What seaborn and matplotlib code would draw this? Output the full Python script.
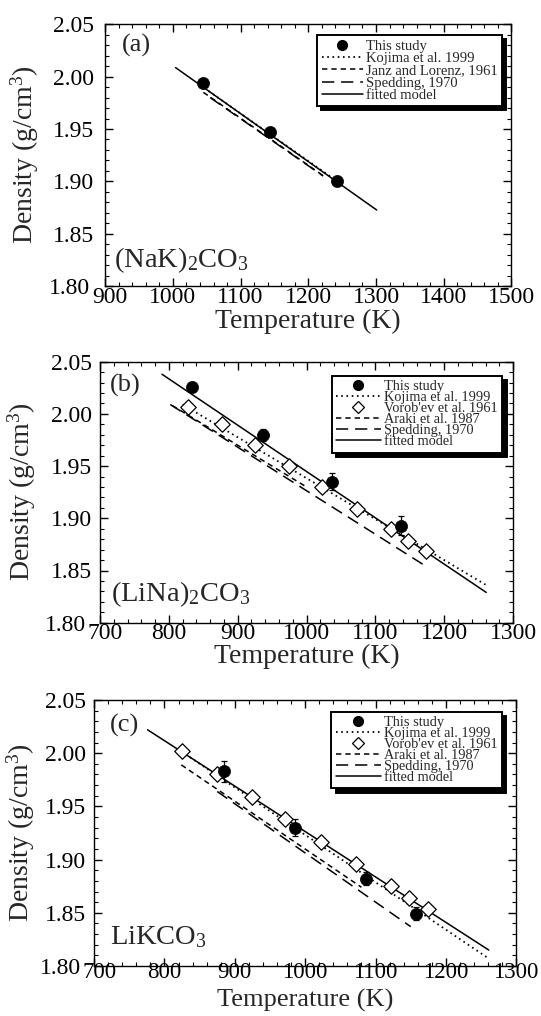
import matplotlib
matplotlib.use("Agg")
import matplotlib.pyplot as plt
import seaborn as sns
import pandas as pd
from matplotlib.ticker import MultipleLocator, FormatStrFormatter
from matplotlib.lines import Line2D
from matplotlib.transforms import ScaledTranslation

# ---------------- data ----------------
# Panel (a) (NaK)2CO3
a_study_T = [1045, 1143, 1243]
a_study_rho = [1.994, 1.947, 1.900]
a_kojima_T = [1040, 1245]
a_kojima_rho = [1.992, 1.899]
a_janz_T = [1045, 1225]
a_janz_rho = [1.985, 1.904]
a_spedding_T = [1055, 1222]
a_spedding_rho = [1.980, 1.905]
a_fit_T = [1004, 1301]
a_fit_rho = [2.0086, 1.8726]

# Panel (b) (LiNa)2CO3
b_study_T = [833, 937, 1037, 1137]
b_study_rho = [2.026, 1.980, 1.935, 1.893]
b_study_err = [0.005, 0.006, 0.008, 0.009]
b_vorobev_T = [828, 877, 925, 974, 1023, 1073, 1123, 1148, 1174]
b_vorobev_rho = [2.007, 1.990, 1.970, 1.950, 1.930, 1.909, 1.890, 1.878, 1.869]
b_kojima_T = [820, 1261]
b_kojima_rho = [2.009, 1.836]
b_araki_T = [805, 1000]
b_araki_rho = [2.008, 1.930]
b_spedding_T = [802, 1176]
b_spedding_rho = [2.009, 1.853]
b_fit_T = [790, 1261]
b_fit_rho = [2.038, 1.829]

# Panel (c) LiKCO3
c_study_T = [884, 985, 1086, 1158]
c_study_rho = [1.983, 1.930, 1.882, 1.849]
c_study_err = [0.010, 0.008, 0.006, 0.006]
c_vorobev_T = [825, 875, 924, 972, 1022, 1072, 1122, 1147, 1174]
c_vorobev_rho = [2.002, 1.980, 1.959, 1.938, 1.917, 1.896, 1.875, 1.864, 1.854]
c_kojima_T = [830, 1261]
c_kojima_rho = [1.999, 1.807]
c_araki_T = [824, 1080]
c_araki_rho = [1.989, 1.874]
c_spedding_T = [875, 1150]
c_spedding_rho = [1.964, 1.837]
c_fit_T = [776, 1261]
c_fit_rho = [2.022, 1.815]

panel_tags = ["(a)", "(b)", "(c)"]
panel_names = [r"(NaK)$_2$CO$_3$", r"(LiNa)$_2$CO$_3$", r"LiKCO$_3$"]
xlims = [(900, 1500), (700, 1300), (700, 1300)]

# ---------------- style ----------------
sns.set_theme(style="ticks")
plt.rcParams["font.family"] = ["Liberation Serif", "DejaVu Serif"]
plt.rcParams["mathtext.fontset"] = "custom"
plt.rcParams["mathtext.rm"] = "Liberation Serif"
plt.rcParams["mathtext.it"] = "Liberation Serif:italic"
plt.rcParams["axes.linewidth"] = 1.0
plt.rcParams["axes.edgecolor"] = "black"

DOT = (0.9, 2.0)
SHORT = (3.5, 2.6)
LONG = (8.0, 4.5)
LW = 1.1

W, H = 541, 1016
fig = plt.figure(figsize=(W / 100, H / 100), dpi=100)

boxes = [(105.2, 511.4, 24.3, 286.0), (100.0, 513.1, 361.7, 622.7), (94.1, 516.2, 700.0, 966.0)]
axes = []
for (l, r, t, b) in boxes:
    axes.append(fig.add_axes([l / W, 1 - b / H, (r - l) / W, (b - t) / H]))


def line(ax, T, rho, dashes=None):
    df = pd.DataFrame({"T": T, "rho": rho})
    sns.lineplot(data=df, x="T", y="rho", ax=ax, color="black",
                 lw=(1.3 if dashes == DOT else LW),
                 estimator=None, sort=False, legend=False)
    ln = ax.lines[-1]
    if dashes is not None:
        ln.set_dashes(dashes)
    return ln


def study(ax, T, rho, err=None):
    if err is not None:
        ax.errorbar(T, rho, yerr=err, fmt="none", ecolor="black", elinewidth=0.9,
                    capsize=2.4, capthick=0.9, zorder=3)
    sns.scatterplot(x=T, y=rho, ax=ax, color="black", marker="o", s=76,
                    edgecolor="black", linewidth=0.5, zorder=5, legend=False)


def vorobev(ax, T, rho):
    sns.scatterplot(x=T, y=rho, ax=ax, color="white", marker="D", s=62,
                    edgecolor="black", linewidth=0.9, zorder=4, legend=False)


# Panel (a)
ax = axes[0]
line(ax, a_kojima_T, a_kojima_rho, DOT)
line(ax, a_janz_T, a_janz_rho, SHORT)
line(ax, a_spedding_T, a_spedding_rho, LONG)
line(ax, a_fit_T, a_fit_rho)
study(ax, a_study_T, a_study_rho)

# Panel (b)
ax = axes[1]
line(ax, b_kojima_T, b_kojima_rho, DOT)
line(ax, b_araki_T, b_araki_rho, SHORT)
line(ax, b_spedding_T, b_spedding_rho, LONG)
line(ax, b_fit_T, b_fit_rho)
vorobev(ax, b_vorobev_T, b_vorobev_rho)
study(ax, b_study_T, b_study_rho, b_study_err)

# Panel (c)
ax = axes[2]
line(ax, c_kojima_T, c_kojima_rho, DOT)
line(ax, c_araki_T, c_araki_rho, SHORT)
line(ax, c_spedding_T, c_spedding_rho, LONG)
line(ax, c_fit_T, c_fit_rho)
vorobev(ax, c_vorobev_T, c_vorobev_rho)
study(ax, c_study_T, c_study_rho, c_study_err)


def proxy(kind):
    if kind == "study":
        return Line2D([], [], ls="none", marker="o", ms=7, mfc="black", mec="black")
    if kind == "vor":
        return Line2D([], [], ls="none", marker="D", ms=6, mfc="white", mec="black", mew=0.9)
    if kind == "fit":
        return Line2D([], [], color="black", lw=LW)
    d = {"dot": DOT, "short": SHORT, "long": LONG}[kind]
    return Line2D([], [], color="black", lw=(1.3 if kind == "dot" else LW), dashes=d)


legend_specs = [
    ([("study", "This study"), ("dot", "Kojima et al. 1999"), ("short", "Janz and Lorenz, 1961"),
      ("long", "Spedding, 1970"), ("fit", "fitted model")], (0.9776, 0.959), -0.06, 10.5, 2.8),
    ([("study", "This study"), ("dot", "Kojima et al. 1999"), ("vor", "Vorob'ev et al. 1961"),
      ("short", "Araki et al. 1987"), ("long", "Spedding, 1970"), ("fit", "fitted model")], (0.974, 0.945), -0.14, 10.3, 3.15),
    ([("study", "This study"), ("dot", "Kojima et al. 1999"), ("vor", "Vorob'ev et al. 1961"),
      ("short", "Araki et al. 1987"), ("long", "Spedding, 1970"), ("fit", "fitted model")], (0.967, 0.956), -0.14, 10.3, 3.15),
]

ylabel_x = [-0.158, -0.150, -0.135]
xlabel_y = [-0.088, -0.080, -0.0846]
ylabel_fs = [20, 20, 20]
xlabel_fs = [20, 20, 19]
xtick_fs = [17, 17, 16.5]
xtick_pad = [0.5, 0.5, -2.8]
ytick_pad = [8, 6, 5.5]
corner_shift = [4.5, 5.5, 5.5]  # px: separate the "1.80" label from the first x label
tag_pos = [(0.041, 0.963), (0.024, 0.953), (0.038, 0.947)]
name_pos = [(0.022, 0.074), (0.027, 0.084), (0.037, 0.083)]

for i, ax in enumerate(axes):
    ax.set_xlim(*xlims[i])
    ax.set_ylim(1.80, 2.05)
    ax.xaxis.set_major_locator(MultipleLocator(100))
    ax.xaxis.set_minor_locator(MultipleLocator(20))
    ax.yaxis.set_major_locator(MultipleLocator(0.05))
    ax.yaxis.set_minor_locator(MultipleLocator(0.01))
    ax.yaxis.set_major_formatter(FormatStrFormatter("%.2f"))
    ax.tick_params(which="both", direction="in", top=True, right=True, colors="black")
    ax.tick_params(which="major", length=6, width=1.0)
    ax.tick_params(which="minor", length=3, width=0.8)
    ax.tick_params(axis="x", which="major", labelsize=xtick_fs[i], pad=xtick_pad[i])
    ax.tick_params(axis="y", which="major", labelsize=17, pad=ytick_pad[i])
    for s in ax.spines.values():
        s.set_visible(True)
        s.set_linewidth(1.0)
        s.set_color("black")
    ax.set_xlabel("Temperature (K)", fontsize=xlabel_fs[i])
    ax.set_ylabel(r"Density (g/cm$^3$)", fontsize=ylabel_fs[i])
    ax.xaxis.set_label_coords(0.5, xlabel_y[i])
    ax.yaxis.set_label_coords(ylabel_x[i], 0.5)
    ax.text(tag_pos[i][0], tag_pos[i][1], panel_tags[i], transform=ax.transAxes,
            ha="left", va="top", fontsize=19)
    ax.text(name_pos[i][0], name_pos[i][1], panel_names[i], transform=ax.transAxes,
            ha="left", va="baseline", fontsize=20.5)

    specs, anchor, lsp, lfs, hl = legend_specs[i]
    handles = [proxy(k) for k, _ in specs]
    labels = [lab for _, lab in specs]
    leg = ax.legend(handles, labels, loc="upper right", bbox_to_anchor=anchor,
                    borderaxespad=0, fontsize=lfs, frameon=True, fancybox=False,
                    shadow={"color": "black", "alpha": 1, "ox": 3, "oy": -3},
                    handlelength=hl, handletextpad=0.25, labelspacing=lsp,
                    borderpad=0.3, numpoints=1)
    fr = leg.get_frame()
    fr.set_edgecolor("black")
    fr.set_linewidth(1.4)
    fr.set_facecolor("white")
    fr.set_alpha(1)
    leg.set_zorder(10)

# nudge the two corner tick labels apart so they do not collide
fig.canvas.draw()
for i, ax in enumerate(axes):
    d = corner_shift[i] / 100.0
    for t in ax.yaxis.get_major_ticks():
        if abs(t.get_loc() - 1.80) < 1e-6:
            t.label1.set_transform(t.label1.get_transform() + ScaledTranslation(-d, 0, fig.dpi_scale_trans))
    x0 = ax.get_xlim()[0]
    for t in ax.xaxis.get_major_ticks():
        if abs(t.get_loc() - x0) < 1e-6:
            t.label1.set_transform(t.label1.get_transform() + ScaledTranslation(d, 0, fig.dpi_scale_trans))

fig.savefig("out.png", dpi=100)
